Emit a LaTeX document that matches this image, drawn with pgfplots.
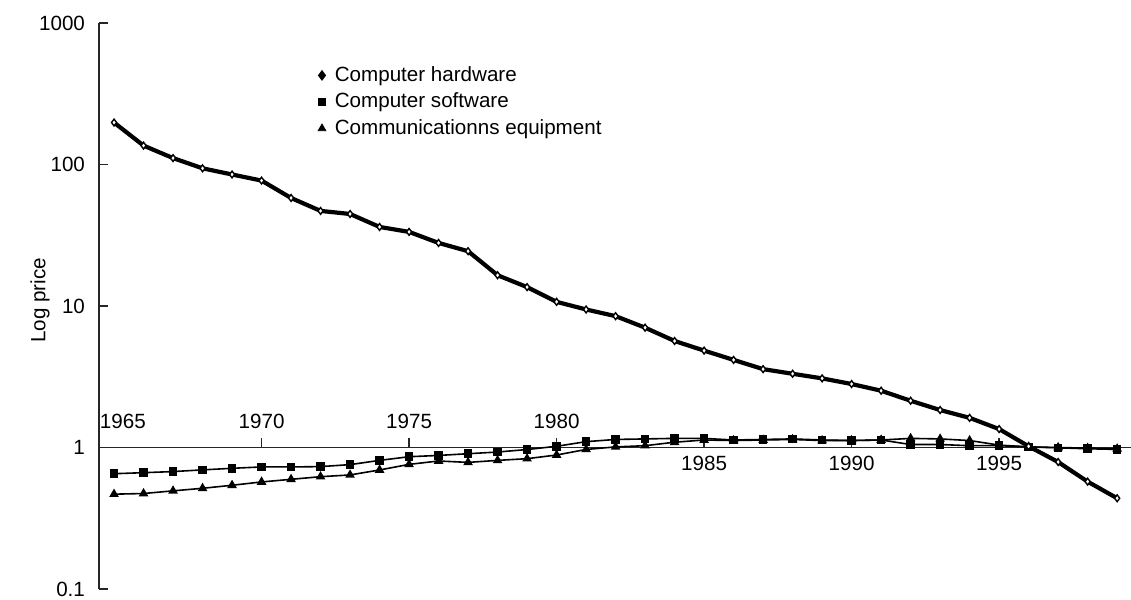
\documentclass[border=0pt]{standalone}
\usepackage{fontspec}
\setmainfont{Liberation Sans}
\usepackage{pgfplots}
\pgfplotsset{compat=1.18}
\begin{document}
\begin{tikzpicture}
\begin{axis}[
  scale only axis, width=516pt, height=283pt,
  xmin=1964.49, xmax=1999.47,
  ymode=log, ymin=0.1, ymax=1000,
  axis y line*=left, axis x line*=middle,
  axis line style={line width=0.7pt, black!85},
  ytick={0.1,1,10,100,1000}, yticklabels={0.1,1,10,100,1000},
  yminorticks=false, xminorticks=false,
  xtick={1970,1975,1980,1985,1990,1995}, xticklabels={},
  tick align=inside, major tick length=4.75pt,
  tick style={line width=0.7pt, black!85},
  yticklabel style={font=\fontsize{10.3}{12}\selectfont, xshift=-3.5pt},
  every axis y label/.style={at={([xshift=-29.5pt]rel axis cs:0,0.51)}, rotate=90, anchor=center, font=\fontsize{10.3}{12}\selectfont},
  ylabel={Log price},
  clip=false,
  legend style={at={(rel axis cs:0.212,0.931)}, anchor=north west, draw=none, fill=none,
    font=\fontsize{10.3}{12}\selectfont, inner sep=0pt, row sep=0.3pt, cells={anchor=west},
    /tikz/every odd column/.append style={column sep=2.5pt}},
  legend image code/.code={\draw[#1] plot coordinates {(0pt,0pt)};},
]
\addlegendimage{only marks, mark=diamond*, mark size=2.4pt, draw=black, fill=black}
\addlegendimage{only marks, mark=square*, mark size=1.9pt, draw=black, fill=black}
\addlegendimage{only marks, mark=triangle*, mark size=2.2pt, draw=black, fill=black}
\legend{Computer hardware, Computer software, Communicationns equipment}

\addplot[forget plot, black, line width=0.8pt, mark=triangle*, mark size=2pt, mark options={fill=black}] coordinates {
(1965,0.468) (1966,0.473) (1967,0.494) (1968,0.515) (1969,0.541) (1970,0.571)
(1971,0.596) (1972,0.622) (1973,0.640) (1974,0.694) (1975,0.760) (1976,0.803)
(1977,0.785) (1978,0.811) (1979,0.834) (1980,0.885) (1981,0.969) (1982,1.01)
(1983,1.03) (1984,1.09) (1985,1.13) (1986,1.12) (1987,1.13) (1988,1.14)
(1989,1.12) (1990,1.12) (1991,1.13) (1992,1.16) (1993,1.15) (1994,1.12)
(1995,1.04) (1996,1.01) (1997,1.00) (1998,0.99) (1999,0.98)
};
\addplot[forget plot, black, line width=0.8pt, mark=square*, mark size=1.75pt, mark options={fill=black}] coordinates {
(1965,0.653) (1966,0.664) (1967,0.676) (1968,0.695) (1969,0.713) (1970,0.729)
(1971,0.729) (1972,0.733) (1973,0.757) (1974,0.811) (1975,0.861) (1976,0.879)
(1977,0.904) (1978,0.929) (1979,0.968) (1980,1.02) (1981,1.10) (1982,1.14)
(1983,1.15) (1984,1.16) (1985,1.16) (1986,1.13) (1987,1.14) (1988,1.15)
(1989,1.13) (1990,1.12) (1991,1.13) (1992,1.05) (1993,1.05) (1994,1.03)
(1995,1.03) (1996,1.01) (1997,0.995) (1998,0.98) (1999,0.97)
};
\addplot[forget plot, black, line width=2.1pt, mark=diamond*, mark size=1.7pt, mark options={fill=white, line width=0.7pt}] coordinates {
(1965,198) (1966,136) (1967,111) (1968,94) (1969,85) (1970,77)
(1971,58) (1972,47) (1973,44.7) (1974,36.2) (1975,33.4) (1976,27.9)
(1977,24.4) (1978,16.5) (1979,13.6) (1980,10.7) (1981,9.45) (1982,8.48)
(1983,7.03) (1984,5.66) (1985,4.84) (1986,4.16) (1987,3.58) (1988,3.32)
(1989,3.08) (1990,2.81) (1991,2.52) (1992,2.14) (1993,1.84) (1994,1.62)
(1995,1.35) (1996,1.02) (1997,0.79) (1998,0.574) (1999,0.438)
};

\begin{scope}[every node/.style={font=\fontsize{10.3}{12}\selectfont, inner sep=0pt}]
\node at ([yshift=13pt]axis cs:1965.3,1) {1965};
\node at ([yshift=13pt]axis cs:1970,1) {1970};
\node at ([yshift=13pt]axis cs:1975,1) {1975};
\node at ([yshift=13pt]axis cs:1980,1) {1980};
\node at ([yshift=-8pt]axis cs:1985,1) {1985};
\node at ([yshift=-8pt]axis cs:1990,1) {1990};
\node at ([yshift=-8pt]axis cs:1995,1) {1995};
\end{scope}
\coordinate (sw) at (rel axis cs:0,0);
\coordinate (ne) at (rel axis cs:1,1);
\end{axis}
\pgfresetboundingbox
\path[use as bounding box] ([shift={(-49.5pt,-5pt)}]sw) rectangle ([shift={(0pt,11.5pt)}]ne);
\end{tikzpicture}
\end{document}
